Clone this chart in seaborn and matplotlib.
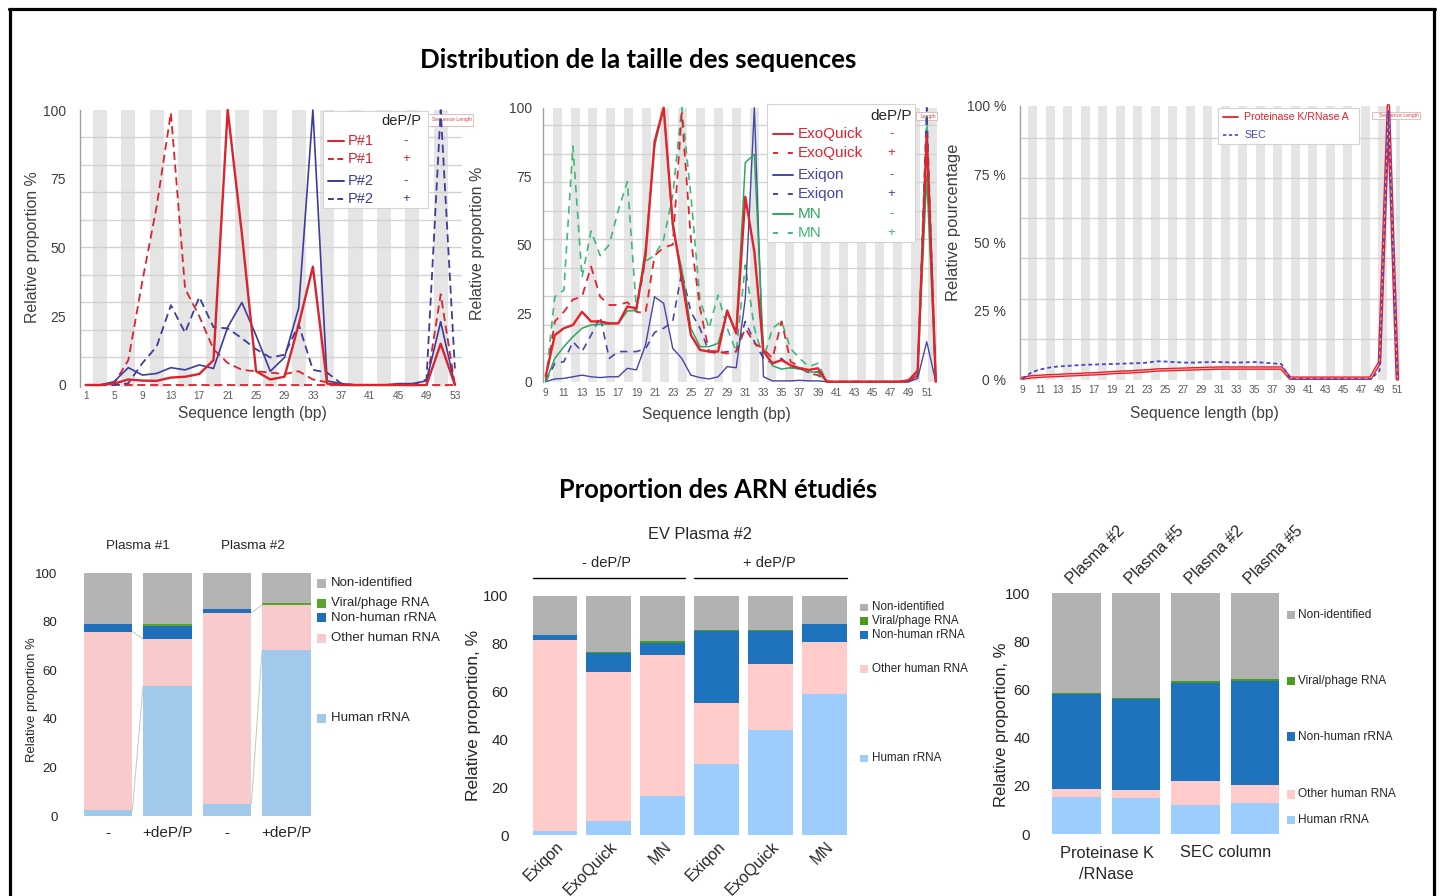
import numpy as np
import pandas as pd
import matplotlib
matplotlib.use("Agg")
import matplotlib.pyplot as plt
import seaborn as sns
from matplotlib.lines import Line2D
from matplotlib.patches import Rectangle

# ------------------------------------------------------------------
# DATA  - size distribution, panel A (plasma, deP/P - / +)
# ------------------------------------------------------------------
len_a = [1, 3, 5, 7, 9, 11, 13, 15, 17, 19, 21, 23, 25, 27, 29, 31, 33, 35, 37, 39, 41, 43, 45, 47, 49, 51, 53]
p1_minus = [0, 0, 0.5, 2, 1.6, 1.5, 2.7, 3, 4, 9, 100, 55, 5, 2, 3, 22, 43, 0.5, 0, 0, 0, 0, 0, 0, 0, 15, 0]
p1_plus = [0, 0, 0.5, 9, 38, 65, 99, 35, 25, 13, 8, 5.5, 5, 4.5, 4, 5, 2, 1, 0, 0, 0, 0, 0, 0, 0, 33, 0]
p1_plus_base = [0, 0, 0, 0, 0, 0, 0, 0, 0, 0, 0, 0, 0, 0, 0, 0, 0, 0, 0, 0, 0, 0, 0, 0, 0, 0, 0]
p2_minus = [0, 0, 1.2, 6.3, 3.6, 4.2, 6.3, 5.5, 7.3, 6, 21, 30, 18, 5, 10, 28, 100, 1.5, 0.5, 0, 0, 0, 0.5, 0.5, 1.5, 23, 0]
p2_plus = [0, 0, 0, 0.6, 8, 14, 29, 19, 32, 21, 20.6, 17, 13, 10, 11, 22, 5.5, 4.5, 0.5, 0, 0, 0, 0, 0, 2, 100, 6]
xticks_a = [1, 5, 9, 13, 17, 21, 25, 29, 33, 37, 41, 45, 49, 53]
yticks_a = [0, 25, 50, 75, 100]

# panel B (EV kits), lengths 9..52
len_b = [9, 10, 11, 12, 13, 14, 15, 16, 17, 18, 19, 20, 21, 22, 23, 24, 25, 26, 27, 28, 29, 30,
         31, 32, 33, 34, 35, 36, 37, 38, 39, 40, 41, 42, 43, 44, 45, 46, 47, 48, 49, 50, 51, 52]
exo_minus = [2, 17, 19.5, 20.7, 25.5, 22, 22, 21.3, 21.3, 27.4, 26.8, 46, 87.6, 100, 58, 37.7, 17, 11.6, 11, 11,
             26, 17.6, 67.5, 47.4, 11, 6.7, 7.9, 6, 4.9, 4.3, 4.9, 0, 0, 0, 0, 0, 0, 0, 0, 0, 0.5, 4, 90, 0]
exo_plus = [0, 22, 25.5, 30, 31, 42, 31, 28, 28, 29, 25.5, 25, 46, 49, 50, 98, 52, 27, 11, 11,
            10.3, 11, 19.5, 14, 12, 8.5, 22, 7.3, 5.5, 3, 2.4, 0, 0, 0, 0, 0, 0, 0, 0, 0, 0, 2.4, 88, 0]
exi_minus = [0, 1, 1.2, 1.8, 2.4, 1.8, 1.5, 1.8, 1.8, 4.9, 4.3, 13.4, 31, 28.6, 12.2, 8.5, 2.4, 1.5, 1, 1.8,
             5.5, 5.1, 30.4, 100, 1.8, 0.3, 0.3, 0.3, 0.5, 0.3, 0.3, 0, 0, 0, 0, 0, 0, 0, 0, 0, 0, 1.2, 14.6, 0]
exi_plus = [0, 6.7, 7.3, 14.6, 11, 17, 23.7, 8.5, 11, 11, 11, 12, 18, 19.5, 22, 40, 25.5, 19.5, 11, 10.3,
            11, 11, 22, 14.6, 8.5, 6.7, 8.5, 5.1, 4.9, 3.4, 3.6, 0, 0, 0, 0, 0, 0, 0, 0, 0, 0, 2, 100, 0]
mn_minus = [0, 8.5, 12.8, 16.4, 19.5, 20.7, 21, 21, 21.3, 25.8, 26, 48.7, 86, 100, 56, 41, 19.5, 12.8, 12.8, 14,
            25, 18, 80, 83, 11.6, 5.8, 4.6, 5.1, 4.6, 3.6, 3.4, 0, 0, 0, 0, 0, 0, 0, 0, 0, 0.5, 3.6, 75, 0]
mn_plus = [0, 31, 33.4, 86, 38, 55, 46, 50, 62.6, 73, 26, 44, 46, 52, 68, 100, 68, 30, 19.5, 31.6,
           19.5, 11, 42.6, 19.5, 8.5, 19.5, 22, 12, 8.5, 5.5, 6.7, 0, 0, 0, 0, 0, 0, 0, 0, 0, 0, 3, 97, 0]
xticks_b = [9, 11, 13, 15, 17, 19, 21, 23, 25, 27, 29, 31, 33, 35, 37, 39, 41, 43, 45, 47, 49, 51]

# panel C (Proteinase K / RNase A vs SEC), lengths 9..51
len_c = [9, 10, 11, 12, 13, 14, 15, 16, 17, 18, 19, 20, 21, 22, 23, 24, 25, 26, 27, 28, 29, 30,
         31, 32, 33, 34, 35, 36, 37, 38, 39, 40, 41, 42, 43, 44, 45, 46, 47, 48, 49, 50, 51]
pk_rnase = [0.3, 0.8, 1.0, 1.2, 1.3, 1.5, 1.6, 1.8, 1.9, 2.1, 2.3, 2.5, 2.6, 2.8, 3.0, 3.3, 3.4, 3.5, 3.6, 3.7,
            3.8, 3.9, 4.0, 4.0, 4.0, 4.0, 4.0, 4.0, 4.0, 4.0, 0.3, 0.3, 0.3, 0.3, 0.3, 0.3, 0.3, 0.3, 0.3, 0.3,
            6, 100, 0]
sec_col = [0, 2.5, 3.5, 4.2, 4.6, 4.8, 5.0, 5.2, 5.3, 5.4, 5.5, 5.6, 5.7, 5.8, 6.0, 6.5, 6.4, 6.2, 6.0, 6.0,
           6.1, 6.2, 6.2, 6.1, 6.0, 6.1, 6.2, 6.0, 5.7, 5.5, 0, 0, 0, 0, 0, 0, 0, 0, 0, 0,
           3, 98, 0]
xticks_c = [9, 11, 13, 15, 17, 19, 21, 23, 25, 27, 29, 31, 33, 35, 37, 39, 41, 43, 45, 47, 49, 51]
yticklabels_c = ["0 %", "25 %", "50 %", "75 %", "100 %"]

# ------------------------------------------------------------------
# DATA  - RNA proportions (stacked segments, %)
# ------------------------------------------------------------------
rna_classes = ["Human rRNA", "Other human RNA", "Non-human rRNA", "Viral/phage RNA", "Non-identified"]

d_labels = ["-", "+deP/P", "-", "+deP/P"]
d_groups = ["Plasma #1", "Plasma #2"]
d_human = [2.5, 53.6, 5.0, 68.4]
d_other = [73.5, 19.4, 78.8, 18.6]
d_nonhuman = [3.0, 5.4, 1.5, 0.1]
d_viral = [0.0, 0.9, 0.1, 0.7]
d_nonid = [21.0, 20.7, 14.6, 12.2]

e_labels = ["Exiqon", "ExoQuick", "MN", "Exiqon", "ExoQuick", "MN"]
e_groups = ["- deP/P", "+ deP/P"]
e_human = [1.8, 5.8, 16.3, 29.7, 43.9, 58.9]
e_other = [79.7, 62.2, 58.9, 25.3, 27.5, 21.9]
e_nonhuman = [2.1, 8.2, 4.9, 30.2, 14.0, 7.2]
e_viral = [0.1, 0.4, 1.1, 0.3, 0.3, 0.2]
e_nonid = [16.3, 23.4, 18.8, 14.5, 14.3, 11.8]

f_labels = ["Plasma #2", "Plasma #5", "Plasma #2", "Plasma #5"]
f_groups = ["Proteinase K\n/RNase", "SEC column"]
f_human = [15.2, 14.8, 12.2, 12.7]
f_other = [3.4, 3.5, 9.8, 7.7]
f_nonhuman = [39.4, 37.8, 40.6, 43.3]
f_viral = [0.6, 0.5, 1.0, 0.8]
f_nonid = [41.4, 43.4, 36.4, 35.5]

# ------------------------------------------------------------------
W, H = 1443, 896
sns.set_theme(style="white")
plt.rcParams['font.family'] = ['Liberation Sans', 'DejaVu Sans']
plt.rcParams['axes.unicode_minus'] = False

fig = plt.figure(figsize=(W / 100, H / 100), dpi=100)
fig.patch.set_facecolor('white')


def fx(px):
    return px / W


def fy(py):
    return 1 - py / H


def add_ax(x0, y0, x1, y1):
    return fig.add_axes([fx(x0), fy(y1), fx(x1) - fx(x0), fy(y0) - fy(y1)])


def ftext(x, y, s, **kw):
    kw.setdefault('ha', 'center')
    kw.setdefault('va', 'center')
    return fig.text(fx(x), fy(y), s, **kw)


def fline(x0, x1, y0, y1=None, **kw):
    if y1 is None:
        y1 = y0
    fig.add_artist(Line2D([fx(x0), fx(x1)], [fy(y0), fy(y1)], transform=fig.transFigure, **kw))


def frect(x0, y0, x1, y1, **kw):
    fig.add_artist(Rectangle((fx(x0), fy(y1)), fx(x1) - fx(x0), fy(y0) - fy(y1),
                             transform=fig.transFigure, **kw))


STRIPE = '#e5e5e5'
GRID = '#d2d2d2'
TXT = '#404040'


def style_line_ax(ax, xlim, ylim, stripes, grid_vals, yticks, ylabels, xticks, ypad, xpad):
    ax.set_xlim(*xlim)
    ax.set_ylim(*ylim)
    ax.set_facecolor('white')
    ax.grid(False)
    for s0, s1 in stripes:
        ax.axvspan(s0, s1, color=STRIPE, lw=0, zorder=0)
    for g in grid_vals:
        ax.axhline(g, color=GRID, lw=1.0, zorder=0.5)
    ax.set_yticks(yticks)
    ax.set_yticklabels(ylabels)
    ax.set_xticks(xticks)
    ax.set_xticklabels([str(t) for t in xticks])
    ax.tick_params(axis='both', length=0)
    ax.tick_params(axis='y', pad=ypad, labelsize=10, labelcolor=TXT)
    ax.tick_params(axis='x', pad=xpad, labelsize=7.3, labelcolor='#595959')
    for s in ['top', 'right', 'bottom']:
        ax.spines[s].set_visible(False)
    ax.spines['left'].set_color('#a0a0a0')
    ax.spines['left'].set_linewidth(1.0)
    ax.set_xlabel('')
    ax.set_ylabel('')


def draw(ax, x, y, color, ls='-', lw=1.2, z=3):
    sns.lineplot(x=x, y=y, ax=ax, color=color, linestyle=ls, linewidth=lw,
                 clip_on=False, legend=False, zorder=z)


def tiny_box(x0, y0, x1, y1, ax, text="Sequence Length"):
    ax.add_artist(Rectangle((fx(x0), fy(y1)), fx(x1) - fx(x0), fy(y0) - fy(y1),
                            transform=fig.transFigure, facecolor='white', edgecolor='#e8b0b0',
                            lw=0.6, zorder=1.5, clip_on=False))
    ax.text(fx(x1) - 0.001, fy((y0 + y1) / 2), text, transform=fig.transFigure,
            ha='right', va='center', fontsize=3.6, color='#e04040', zorder=1.6, clip_on=False)


RED_A = '#d9232d'
BLUE_A = '#3c3c9c'
DASH = (0, (4.5, 2.6))
DASH_LEG_A = (0, (3.0, 1.8))

# ---------------- Panel A ----------------
axA = add_ax(80, 110, 462, 387)
stripesA = [(2 + 4 * k, 4 + 4 * k) for k in range(13)]
style_line_ax(axA, (0.2, 54.0), (-0.73, 100), stripesA, [10, 20, 30, 40, 50, 60, 70, 80, 90],
              yticks_a, [str(v) for v in yticks_a], xticks_a, 10, 3)
tiny_box(426, 114.3, 473.3, 125.7, axA)
draw(axA, len_a, p1_plus_base, RED_A, DASH, 1.3)
draw(axA, len_a, p2_plus, BLUE_A, DASH, 1.3)
draw(axA, len_a, p1_plus, RED_A, DASH, 1.3)
draw(axA, len_a, p2_minus, BLUE_A, '-', 1.2)
draw(axA, len_a, p1_minus, RED_A, '-', 1.7)

# legend A
frect(323.3, 111, 428.3, 208.3, facecolor='white', edgecolor='#d4d4d4', lw=0.8, zorder=5)
ftext(421.7, 121, "deP/P", ha='right', fontsize=10.5, color='#262626', zorder=6)
for yy, col, ls, lab, sg in [(140.7, RED_A, '-', 'P#1', '-'), (159.3, RED_A, DASH_LEG_A, 'P#1', '+'),
                             (180.7, BLUE_A, '-', 'P#2', '-'), (199, BLUE_A, DASH_LEG_A, 'P#2', '+')]:
    fline(328, 344, yy, color=col, ls=ls, lw=1.4, zorder=6)
    ftext(348, yy, lab, ha='left', fontsize=10.5, color=col, zorder=6)
    ftext(406, yy, sg, fontsize=9.5, color=col, zorder=6)

# ---------------- Panel B ----------------
RED_B = '#e5222c'
BLUE_B = '#4646a6'
GREEN_B = '#2aa860'
GREEN_B2 = '#3dba78'
axB = add_ax(543, 107.7, 936.7, 382.3)
x0B, pB = 8.70, 9.07
stripesB = [(x0B + (552.7 + 17.89 * k - 543) / pB, x0B + (561.7 + 17.89 * k - 543) / pB) for k in range(22)]
style_line_ax(axB, (8.70, 52.1), (-0.22, 100), stripesB, [10.4 * k for k in range(1, 10)],
              [0, 25, 50, 75, 100], ['0', '25', '50', '75', '100'], xticks_b, 8, 4)
tiny_box(916, 112.3, 937.3, 120, axB, text="Length")
DASH_B = (0, (4.5, 3.5))
DASH_LEG_B = (0, (2.6, 5.0))
draw(axB, len_b, mn_plus, GREEN_B2, DASH_B, 1.2)
draw(axB, len_b, exi_plus, BLUE_B, DASH_B, 1.2)
draw(axB, len_b, exo_plus, RED_B, DASH_B, 1.3)
draw(axB, len_b, exi_minus, BLUE_B, '-', 1.0)
draw(axB, len_b, mn_minus, GREEN_B, '-', 1.1)
draw(axB, len_b, exo_minus, RED_B, '-', 1.7)

frect(767.3, 104.3, 915, 241.7, facecolor='white', edgecolor='#d4d4d4', lw=0.8, zorder=5)
ftext(911.5, 115.7, "deP/P", ha='right', fontsize=11, color='#262626', zorder=6)
for yy, col, ls, lab, sg in [(134, RED_B, '-', 'ExoQuick', '-'), (152.7, RED_B, DASH_LEG_B, 'ExoQuick', '+'),
                             (175, BLUE_B, '-', 'Exiqon', '-'), (194, BLUE_B, DASH_LEG_B, 'Exiqon', '+'),
                             (214.3, GREEN_B, '-', 'MN', '-'), (233.3, GREEN_B2, DASH_LEG_B, 'MN', '+')]:
    fline(773, 793, yy, color=col, ls=ls, lw=1.4, zorder=6)
    ftext(797.3, yy, lab, ha='left', fontsize=11, color=col, zorder=6)
    ftext(891.7, yy, sg, fontsize=9.5, color=col, zorder=6)

# ---------------- Panel C ----------------
RED_C = '#e8202a'
BLUE_C = '#4848c8'
axC = add_ax(1020, 105.7, 1400, 379.5)
x0C, pC = 8.70, 8.92
stripesC = [(x0C + (1028.3 + 17.5 * k - 1020) / pC, x0C + (1037.3 + 17.5 * k - 1020) / pC) for k in range(22)]
style_line_ax(axC, (8.70, 51.3), (-0.18, 100), stripesC, [14.7 * k for k in range(1, 7)],
              [0, 25, 50, 75, 100], yticklabels_c, xticks_c, 10, 4)
tiny_box(1372.3, 112.3, 1420, 119, axC)
draw(axC, len_c, pk_rnase, RED_C, '-', 2.6)
draw(axC, len_c, pk_rnase, '#f7b4b4', '-', 0.7, z=3.1)
draw(axC, len_c, sec_col, BLUE_C, (0, (2.2, 1.6)), 1.3, z=3.2)

frect(1218.3, 107.7, 1359, 144, facecolor='white', edgecolor='#d4d4d4', lw=0.8, zorder=5)
fline(1222.7, 1238.3, 117.3, color=RED_C, lw=1.3, zorder=6)
ftext(1244, 117.3, "Proteinase K/RNase A", ha='left', fontsize=7.6, color=RED_C, zorder=6)
fline(1222.7, 1238.3, 135.3, color=BLUE_C, ls=(0, (2, 1.5)), lw=1.2, zorder=6)
ftext(1244, 135.3, "SEC", ha='left', fontsize=7.6, color=BLUE_C, zorder=6)

# axis titles, line panels
ftext(252.3, 413.3, "Sequence length (bp)", fontsize=11.2, color=TXT)
ftext(716.7, 415, "Sequence length (bp)", fontsize=11.2, color=TXT)
ftext(1204, 413.3, "Sequence length (bp)", fontsize=11.2, color=TXT)
ftext(32.7, 246.7, "Relative proportion %", rotation=90, fontsize=11.4, color=TXT)
ftext(477.5, 243.5, "Relative proportion %", rotation=90, fontsize=11.5, color=TXT)
ftext(953.3, 222.5, "Relative pourcentage", rotation=90, fontsize=11.9, color=TXT)

# ------------------------------------------------------------------
# Stacked bar panels
# ------------------------------------------------------------------
COL4 = ['#a1c9ec', '#f8cacc', '#1f6fba', '#5ba32f', '#b4b4b4']
COL56 = ['#9ccdfd', '#ffcbcb', '#1f72bc', '#4a9a1e', '#b2b2b2']


def stacked(ax, segs, colors, width):
    n = len(segs[0])
    xs = np.arange(n)
    bottom = np.zeros(n)
    for vals, col in zip(segs, colors):
        v = np.array(vals, dtype=float)
        ax.bar(xs, v, width, bottom=bottom, color=col, linewidth=0, zorder=2)
        bottom = bottom + v
    ax.set_ylim(0, 100)
    ax.set_xlim(-0.5, n - 0.5)
    for s in ax.spines.values():
        s.set_visible(False)
    ax.grid(False)
    ax.set_facecolor('none')
    ax.set_yticks([0, 20, 40, 60, 80, 100])
    ax.tick_params(axis='both', length=0)


def legend_block(x_sq, sq, x_txt, ys, colors, fs):
    labels = ["Non-identified", "Viral/phage RNA", "Non-human rRNA", "Other human RNA", "Human rRNA"]
    cols = [colors[4], colors[3], colors[2], colors[1], colors[0]]
    for yy, lab, c in zip(ys, labels, cols):
        frect(x_sq, yy - sq / 2, x_sq + sq, yy + sq / 2, facecolor=c, edgecolor='none', zorder=4)
        ftext(x_txt, yy, lab, ha='left', fontsize=fs, color='#262626')


# ---- Panel D ----
axD = add_ax(78.25, 573.3, 316.25, 816)
w4 = 0.82
stacked(axD, [d_human, d_other, d_nonhuman, d_viral, d_nonid], COL4, w4)
axD.tick_params(axis='y', labelsize=9.5, labelcolor='#262626', pad=15)
axD.set_xticks(range(4))
axD.set_xticklabels(d_labels, fontsize=11, color='#262626')
axD.tick_params(axis='x', pad=7)
cum_h = np.array(d_human)
cum_o = cum_h + np.array(d_other)
for a, b in [(0, 1), (2, 3)]:
    axD.plot([a + w4 / 2, b - w4 / 2], [cum_h[a], cum_h[b]], color='#c4c4c4', lw=0.7, zorder=1)
    axD.plot([a + w4 / 2, b - w4 / 2], [cum_o[a], cum_o[b]], color='#c4c4c4', lw=0.7, zorder=1)
ftext(138.3, 546, d_groups[0], fontsize=9.7, color='#262626')
ftext(253.3, 546, d_groups[1], fontsize=9.7, color='#262626')
ftext(31.7, 700, "Relative proportion %", rotation=90, fontsize=9.4, color='#262626')
legend_block(316.7, 9, 330.7, [583.3, 603.3, 617.7, 638.3, 718.3], COL4, 9.5)

# ---- Panel E ----
axE = add_ax(528, 595.7, 851.5, 835)
w5 = 0.83
stacked(axE, [e_human, e_other, e_nonhuman, e_viral, e_nonid], COL56, w5)
axE.tick_params(axis='y', labelsize=10.8, labelcolor='#262626', pad=14)
axE.set_xticks([])
for i, lab in enumerate(e_labels):
    axE.text(i + 0.12, -4.0, lab, rotation=45, ha='right', va='center', rotation_mode='anchor',
             fontsize=11.5, color='#262626', clip_on=False)
ftext(700, 534, "EV Plasma #2", fontsize=11.8, color='#262626')
ftext(606.7, 563.3, e_groups[0], fontsize=10.5, color='#262626')
ftext(769.3, 563.3, e_groups[1], fontsize=10.5, color='#262626')
fline(532.7, 685, 578.3, color='black', lw=1.0)
fline(694.3, 846.7, 578.3, color='black', lw=1.0)
ftext(473.3, 715.5, "Relative proportion, %", rotation=90, fontsize=12.5, color='#262626')
legend_block(860, 7.5, 871.7, [607.3, 621, 635, 669, 758.3], COL56, 8.4)

# ---- Panel F ----
axF = add_ax(1046.75, 593.3, 1284.75, 834)
w6 = 0.82
stacked(axF, [f_human, f_other, f_nonhuman, f_viral, f_nonid], COL56, w6)
axF.tick_params(axis='y', labelsize=10.8, labelcolor='#262626', pad=12)
axF.set_xticks([])
for i, lab in enumerate(f_labels):
    axF.text(i - 0.04, 102.5, lab, rotation=45, ha='left', va='bottom', rotation_mode='anchor',
             fontsize=11.5, color='#262626', clip_on=False)
ftext(1106.7, 864, f_groups[0], fontsize=11.8, color='#262626', linespacing=1.45)
ftext(1225.7, 852.7, f_groups[1], fontsize=11.8, color='#262626')
ftext(1001.7, 725, "Relative proportion, %", rotation=90, fontsize=12, color='#262626')
legend_block(1286.7, 8.5, 1298.3, [615, 681, 736.7, 794.3, 820], COL56, 8.6)

# ------------------------------------------------------------------
# Section titles and frame
# ------------------------------------------------------------------
t1 = ftext(638.5, 60, "Distribution de la taille des sequences", fontsize=16,
           fontweight='bold', family=['Lato', 'DejaVu Sans'], color='black')
t2 = ftext(718, 490, "Proportion des ARN étudiés", fontsize=16,
           fontweight='bold', family=['Lato', 'DejaVu Sans'], color='black')
fig.canvas.draw()
rend = fig.canvas.get_renderer()
for t, target in [(t1, 437), (t2, 320)]:
    bb = t.get_window_extent(renderer=rend)
    t.set_fontsize(t.get_fontsize() * target / bb.width)

fline(10, 10, 9, 900, color='black', lw=2.3, zorder=10)
fline(1434, 1434, 9, 900, color='black', lw=2.3, zorder=10)
fline(9, 1435, 9.5, color='black', lw=2.3, zorder=10)

fig.savefig("out.png", dpi=100, facecolor='white')
